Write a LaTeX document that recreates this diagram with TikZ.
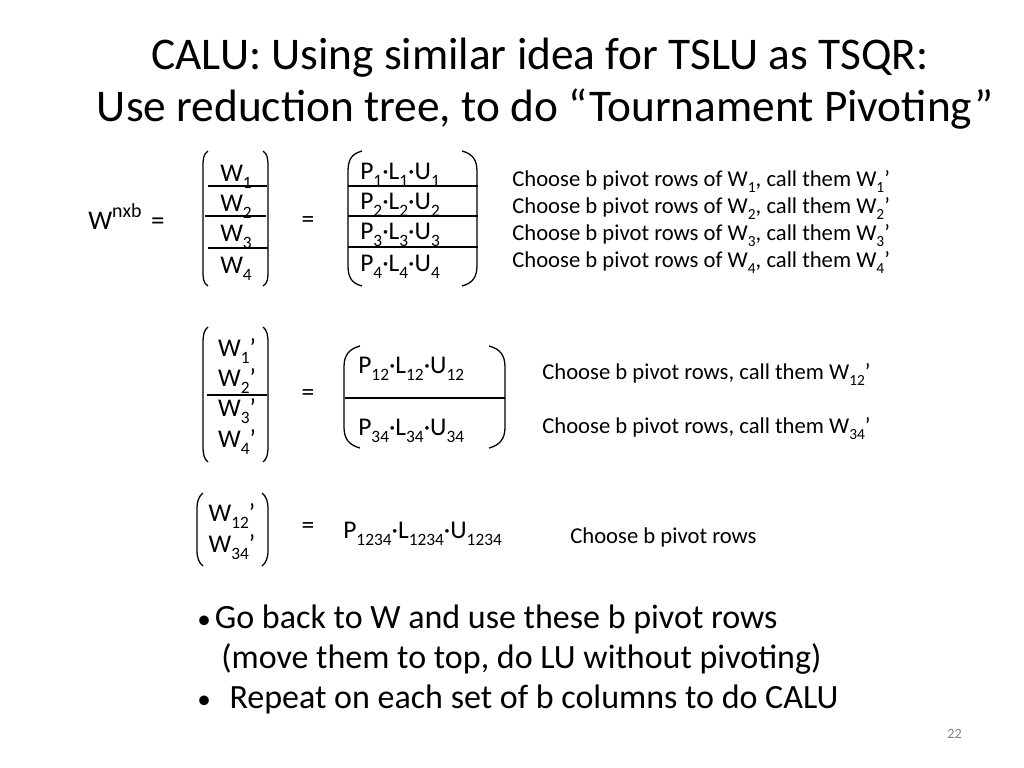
\documentclass[tikz,border=0pt]{standalone}
\usepackage{fontspec}
\usepackage{graphicx}
\setmainfont{Carlito}
\newcommand\sbx[1]{\raisebox{-0.28em}{\scalebox{0.68}{#1}}}
\newcommand\spx[1]{\raisebox{0.42em}{\scalebox{0.74}{#1}}}
\newcommand\bulx{\scalebox{0.8}{•}}
\begin{document}
\begin{tikzpicture}[x=0.70576pt,y=-0.70576pt,
  txt/.style={inner sep=0pt,anchor=base west,font=\fontsize{16}{18}\selectfont},
  mtx/.style={txt,font=\fontsize{18}{20}\selectfont},
  ttl/.style={inner sep=0pt,anchor=base,font=\fontsize{32}{34}\selectfont},
  bul/.style={inner sep=0pt,anchor=base west,font=\fontsize{24}{26}\selectfont},
  brk/.style={line width=0.9pt,black},
  sep/.style={line width=0.8pt,black}]
\useasboundingbox (0,0) rectangle (1024,768);
\fill[white] (0,0) rectangle (1024,768);
% title
\node[ttl] (t1) at (540,70) {CALU: Using similar idea for TSLU as TSQR:};
\node[ttl] (t2) at (545,122) {Use reduction tree, to do “Tournament Pivoting”};
% ---------- level 1
\node[txt,font=\fontsize{19}{21}\selectfont] (wnxb) at (88,229) {W\spx{nxb}\hspace{0.35em}=};
\draw[brk] (208,151) .. controls (203,154) and (203,160) .. (203,168) -- (203,270) .. controls (203,278) and (203,283) .. (208,286);
\draw[brk] (263,151) .. controls (268,154) and (268,160) .. (268,168) -- (268,270) .. controls (268,278) and (268,283) .. (263,286);
\draw[sep] (208,186) -- (267,186);
\draw[sep] (205,216) -- (266,216);
\draw[sep] (208,248) -- (268,248);
\node[mtx,anchor=base] (w1) at (236,181) {W\sbx{1}};
\node[mtx,anchor=base] (w2) at (236,211) {W\sbx{2}};
\node[mtx,anchor=base] (w3) at (236,241) {W\sbx{3}};
\node[mtx,anchor=base] (w4) at (236,273) {W\sbx{4}};
\node[mtx,anchor=center] (eq1) at (308,222) {=};
\draw[brk] (362,151) .. controls (351,154) and (348,160) .. (348,172) -- (348,265) .. controls (348,277) and (351,283) .. (362,286);
\draw[brk] (462,151) .. controls (473,154) and (477,160) .. (477,172) -- (477,265) .. controls (477,277) and (473,283) .. (462,286);
\draw[sep] (348,186) -- (478,186);
\draw[sep] (348,216) -- (478,216);
\draw[sep] (348,247) -- (478,247);
\node[mtx] (p1) at (360,179) {P\sbx{1}·L\sbx{1}·U\sbx{1}};
\node[mtx] (p2) at (360,209) {P\sbx{2}·L\sbx{2}·U\sbx{2}};
\node[mtx] (p3) at (360,239) {P\sbx{3}·L\sbx{3}·U\sbx{3}};
\node[mtx] (p4) at (360,271) {P\sbx{4}·L\sbx{4}·U\sbx{4}};
\node[txt] (c1) at (512,186) {Choose b pivot rows of W\sbx{1}, call them W\sbx{1}’};
\node[txt] (c2) at (512,213) {Choose b pivot rows of W\sbx{2}, call them W\sbx{2}’};
\node[txt] (c3) at (512,240) {Choose b pivot rows of W\sbx{3}, call them W\sbx{3}’};
\node[txt] (c4) at (512,267) {Choose b pivot rows of W\sbx{4}, call them W\sbx{4}’};
% ---------- level 2
\draw[brk] (208,327) .. controls (204,330) and (203,335) .. (203,343) -- (203,446) .. controls (203,454) and (204,459) .. (208,462);
\draw[brk] (263,327) .. controls (267,330) and (268,335) .. (268,343) -- (268,446) .. controls (268,454) and (267,459) .. (263,462);
\draw[sep] (207,395) -- (267,395);
\node[mtx,anchor=base] (v1) at (237,356) {W\sbx{1}’};
\node[mtx,anchor=base] (v2) at (237,386) {W\sbx{2}’};
\node[mtx,anchor=base] (v3) at (237,416) {W\sbx{3}’};
\node[mtx,anchor=base] (v4) at (237,447) {W\sbx{4}’};
\node[mtx,anchor=center] (eq2) at (308,395) {=};
\draw[brk] (360,346) .. controls (349,349) and (344,355) .. (344,367) -- (344,427) .. controls (344,439) and (349,445) .. (360,448);
\draw[brk] (489,346) .. controls (500,349) and (505,355) .. (505,367) -- (505,427) .. controls (505,439) and (500,445) .. (489,448);
\draw[sep] (345,398) -- (505,398);
\node[mtx] (p12) at (358,373) {P\sbx{12}·L\sbx{12}·U\sbx{12}};
\node[mtx] (p34) at (358,435) {P\sbx{34}·L\sbx{34}·U\sbx{34}};
\node[txt] (c12) at (542,379) {Choose b pivot rows, call them W\sbx{12}’};
\node[txt] (c34) at (542,433) {Choose b pivot rows, call them W\sbx{34}’};
% ---------- level 3
\draw[brk] (203,493) .. controls (199,496) and (197,501) .. (197,509) -- (197,550) .. controls (197,558) and (199,563) .. (203,566);
\draw[brk] (262,493) .. controls (266,496) and (268,501) .. (268,509) -- (268,550) .. controls (268,558) and (266,563) .. (262,566);
\node[mtx,anchor=base] (u1) at (232,521) {W\sbx{12}’};
\node[mtx,anchor=base] (u2) at (232,552) {W\sbx{34}’};
\node[mtx,anchor=center] (eq3) at (308,528) {=};
\node[mtx] (p1234) at (343,538) {P\sbx{1234}·L\sbx{1234}·U\sbx{1234}};
\node[txt] (c1234) at (570,543) {Choose b pivot rows};
% ---------- bullets
\node[bul] (b1) at (197,628) {\bulx\hspace{0.12em}Go back to W and use these b pivot rows};
\node[bul] (b2) at (221,668) {(move them to top, do LU without pivoting)};
\node[bul] (b3) at (197,708) {\bulx\hspace{0.55em}Repeat on each set of b columns to do CALU};
\node[inner sep=0pt,anchor=base east,font=\fontsize{10}{12}\selectfont,text=gray] (pg) at (962,738) {22};
\end{tikzpicture}
\end{document}
